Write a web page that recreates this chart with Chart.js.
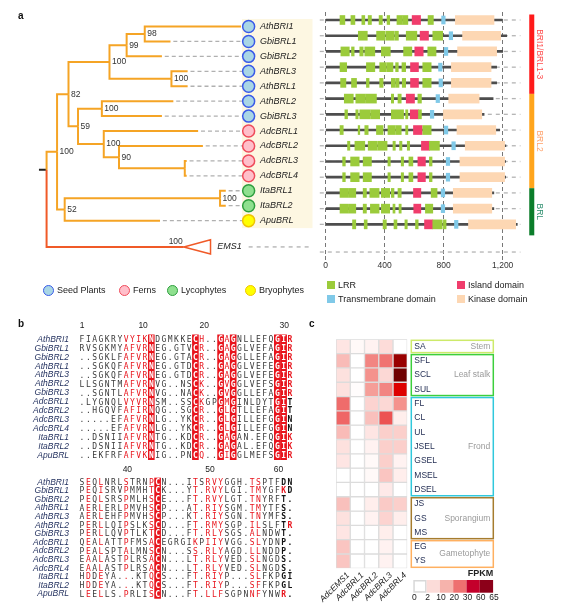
<!DOCTYPE html>
<html>
<head>
<meta charset="utf-8">
<script src="https://cdn.jsdelivr.net/npm/chart.js@4.4.1/dist/chart.umd.min.js"></script>
<style>
  body { margin: 0; background: #fff; font-family: "Liberation Sans", Arial, sans-serif; }
  #page { position: relative; width: 562px; height: 605px; overflow: hidden; }
  canvas { position: absolute; }
  .tag { position: absolute; font-weight: bold; font-size: 10px; color: #111; }
  .leg { position: absolute; display: flex; align-items: center; gap: 3px; height: 12px; font-size: 9px; color: #222; white-space: nowrap; }
  .leg i { display: block; width: 9px; height: 9px; border-radius: 50%; border: 1.5px solid; }
  .leg b { display: block; width: 8px; height: 8px; }
</style>
</head>
<body>
<div id="page">
  <canvas id="treeChart" width="320" height="300" style="left:0;top:0"></canvas>
  <canvas id="domainChart" width="262" height="275" style="left:300px;top:0"></canvas>
  <canvas id="alignTop" width="300" height="142" style="left:0;top:318px"></canvas>
  <canvas id="alignBottom" width="300" height="143" style="left:0;top:462px"></canvas>
  <canvas id="heatChart" width="262" height="275" style="left:300px;top:330px"></canvas>

  <div class="tag" style="left:18px;top:10px">a</div>
  <div class="tag" style="left:18px;top:318px">b</div>
  <div class="tag" style="left:309px;top:318px">c</div>

  <div class="leg" style="left:43px;top:284px"><i style="background:#a9d6e5;border-color:#3a5ae8"></i>Seed Plants</div>
  <div class="leg" style="left:119px;top:284px"><i style="background:#ffbfca;border-color:#ef4a5a"></i>Ferns</div>
  <div class="leg" style="left:167px;top:284px"><i style="background:#8fe08f;border-color:#2e9e3e"></i>Lycophytes</div>
  <div class="leg" style="left:245px;top:284px"><i style="background:#ffff00;border-color:#f0c400"></i>Bryophytes</div>

  <div class="leg" style="left:327px;top:279px"><b style="background:#9bcb3b"></b>LRR</div>
  <div class="leg" style="left:457px;top:279px"><b style="background:#f03d6c"></b>Island domain</div>
  <div class="leg" style="left:327px;top:293px"><b style="background:#80c9e8"></b>Transmembrane domain</div>
  <div class="leg" style="left:457px;top:293px"><b style="background:#fdd7b3"></b>Kinase domain</div>
</div>

<script>
const FONT = '"Liberation Sans", Arial, sans-serif';
Chart.defaults.font.family = FONT;

// ---------- panel a : tree ----------
const leafNames = ['AthBRI1', 'GbiBRL1', 'GbiBRL2', 'AthBRL3', 'AthBRL1', 'AthBRL2', 'GbiBRL3',
  'AdcBRL1', 'AdcBRL2', 'AdcBRL3', 'AdcBRL4', 'ItaBRL1', 'ItaBRL2', 'ApuBRL'];
const leafGroup = [0, 0, 0, 0, 0, 0, 0, 1, 1, 1, 1, 2, 2, 3];
const leafTip = [245, 171, 162, 189, 189, 174, 162, 200, 205, 188, 188, 229, 229, 160];
// internal nodes: depth and children (number = leaf, 'nK' = node K)
const nodeDepth = [144, 125, 172, 107, 99, 186, 117, 101, 74, 64, 223, 60, 52];
const nodeKids = [[0, 1], ['n0', 2], [3, 4], ['n1', 'n2'], [5, 6], [9, 10], [8, 'n5'], [7, 'n6'],
  ['n4', 'n7'], ['n3', 'n8'], [11, 12], ['n10', 13], ['n9', 'n11']];
const nodeSupport = ['98', '99', '100', '100', '100', '', '90', '100', '59', '82', '100', '52', '100'];
const outName = 'EMS1';
const outSupport = '100';
const outRow = 14.76;
const outApex = 185, outBase = 213;
const rootDepth = 41, rootStub = 33, rootRow = 9.6;
const groupFill = ['#a9d6e5', '#ffbfca', '#8fe08f', '#ffff00'];
const groupLine = ['#3a5ae8', '#ef4a5a', '#2e9e3e', '#f0c400'];

// ---------- panel a : domains ----------
const protLen = [1196, 1227, 1200, 1159, 1159, 1135, 1074, 1180, 1222, 1220, 1220, 1140, 1140, 1299];
const kinaseSpan = [[879, 1141], [928, 1186], [894, 1159], [852, 1121], [852, 1121], [834, 1040], [798, 1058],
  [890, 1153], [946, 1213], [910, 1213], [910, 1213], [865, 1126], [865, 1126], [968, 1288]];
const tmSite = [798, 849, 816, 777, 780, 760, 721, 816, 867, 829, 829, 795, 795, 885];
const islandSpan = [[586, 643], [640, 697], [604, 661], [575, 629], [575, 629], [546, 602], [573, 629],
  [595, 654], [649, 703], [625, 676], [625, 676], [595, 645], [597, 645], [670, 726]];
const lrrSpans = [
  [[97, 130], [171, 198], [245, 265], [288, 310], [362, 384], [416, 434], [483, 520], [522, 557], [694, 730]],
  [[221, 282], [345, 402], [408, 465], [470, 493], [546, 618], [726, 793]],
  [[103, 160], [175, 193], [231, 254], [265, 333], [377, 438], [528, 584], [692, 748]],
  [[97, 142], [276, 333], [366, 410], [414, 456], [474, 492], [517, 542], [658, 715]],
  [[101, 137], [175, 209], [276, 294], [366, 389], [445, 470], [474, 497], [519, 542], [658, 715]],
  [[126, 187], [204, 270], [274, 344], [445, 461], [490, 512], [625, 649]],
  [[130, 148], [204, 220], [231, 300], [304, 366], [445, 528], [542, 557], [629, 649]],
  [[97, 119], [220, 231], [265, 288], [344, 389], [422, 470], [474, 512], [542, 557], [658, 715]],
  [[148, 164], [198, 265], [288, 350], [354, 416], [456, 472], [501, 517], [553, 569], [703, 771]],
  [[115, 133], [169, 227], [254, 310], [422, 438], [512, 528], [564, 591], [703, 721]],
  [[115, 133], [169, 227], [254, 310], [422, 438], [512, 528], [564, 591], [703, 721]],
  [[97, 150], [154, 204], [254, 276], [299, 362], [377, 434], [445, 463], [490, 512], [715, 755]],
  [[97, 150], [154, 204], [254, 276], [303, 362], [377, 434], [456, 470], [497, 512], [676, 726]],
  [[182, 204], [261, 281], [389, 411], [463, 483], [537, 553], [609, 627], [726, 790], [798, 816]]
];
const axisTicks = [0, 400, 800, 1200];
const cladeNames = ['BRI1/BRL1-3', 'BRL2', 'BRL'];
const cladeRows = [[0, 4], [5, 10], [11, 13]];
const cladeColors = ['#ff1a1a', '#ffa51c', '#0b7d2a'];
const cladeTextColors = ['#ff4d4d', '#ffa26b', '#2f8f6f'];

// ---------- panel b : alignment ----------
const alignNames = ['AthBRI1', 'GbiBRL1', 'GbiBRL2', 'AthBRL1', 'AthBRL3', 'AthBRL2', 'GbiBRL3',
  'AdcBRL1', 'AdcBRL2', 'AdcBRL3', 'AdcBRL4', 'ItaBRL1', 'ItaBRL2', 'ApuBRL'];
const alignTop = [
  'FIAGKRYVYIKNDGMKKECH..GAGNLLEFQGIR',
  'RVSGKMYAFVRNEG.GTVCR..GAGGLVEFAGIR',
  '..SGKLFAFVRNEG.GTACR..GAGGLLEFAGIR',
  '..SGKQFAFVRNEG.GTDCR..GAGGLVEFEGIR',
  '..SGKQFAFVRNEG.GTDCR..GAGGLVEFEGIR',
  'LLSGNTMAFVRNVG..NSCK..GVGGLVEFSGIR',
  '..SGNTLAFVRNVG..NACK..GVGGLLEFAGIR',
  '.LYGNQLVYVRNSM..SSCKGPGMGINLDYTGIT',
  '..HGQVFAFIRNQG..SGCR..GLGTLLEFAGIT',
  '.....EFAFVRNLG..YKCR..GLGILLEFGGIN',
  '.....EFAFVRNLG..YKCR..GLGILLEFGGIN',
  '..DSNIIAFVRNTG..KDCR..GAGAN.EFQGIK',
  '..DSNIIAFVRNTG..KDCR..GAGAL.EFQGIK',
  '..EKFRFAFVKNIG..PNCQ..GIGGLMEFSGIR'
];
const alignBottom = [
  'SEQLNRLSTRNPCN...ITSRVYGGH.TSPTFDN',
  'PEQISRVPMMHTCK...YT.RVYLGI.TMYGFKD',
  'PEQLSRSPMLHSCE...FT.RVYLGT.TNYRFT.',
  'AERLERLPMVHSCP...AT.RIYSGM.TMYTFS.',
  'AERLEHFPMVHSCP...KT.RIYSGN.TNYMFS.',
  'PERLLQIPSLKSCD...FT.RMYSGP.ILSLFTR',
  'PERLLQVPTLKTCD...FT.RLYSGS.ALNDWT.',
  'QEALATTPFMSACEGRGIKPIIYVGG.SLYDNP.',
  'PEALSPTALMNSCN...SS.RLYAGD.LLNDDP.',
  'EAALASTPLRSACN...LT.RLYVED.SLNGDS.',
  'EAALASTPLRSACN...LT.RLYVED.SLNGDS.',
  'HDDEYA...KTQCS...FT.RIYP...SLFKPGI',
  'HDDEYA...KTQCS...FT.RIYP...SFFKPGL',
  'LEELLS.PRLISCN...FT.LLFSGPNNFYNWR.'
];
// column classes: n normal, r similar (red), b identical (red box), k bold
const classTop = 'nnnnnnnrrrrbnnnnnnbrnnbrbnnnnnnbbk';
const classBottom = 'nrnrnnnrnnnrbnnnnnrnrrrnnnnrrnnnkk';
const numTopCols = [0, 9.7, 19.4, 32.1];
const numTopText = ['1', '10', '20', '30'];
const numBottomCols = [7.2, 20.3, 31.2];
const numBottomText = ['40', '50', '60'];

// ---------- panel c : heatmap ----------
const geneNames = ['AdcEMS1', 'AdcBRL1', 'AdcBRL2', 'AdcBRL3', 'AdcBRL4'];
const tissueNames = ['SA', 'SFL', 'SCL', 'SUL', 'FL', 'CL', 'UL', 'JSEL', 'GSEL', 'MSEL', 'DSEL', 'JS', 'GS', 'MS', 'EG', 'YS'];
const fpkmEMS1 = [5, 14, 6, 6, 28, 29, 14, 6, 5, 0, 0, 13, 6, 5, 12, 12];
const fpkmBRL1 = [1, 0, 0, 0.5, 0, 0, 0, 0, 0, 0, 0, 0, 0, 0, 0, 0];
const fpkmBRL2 = [2, 24, 22, 20, 9, 13, 5, 2, 1, 1, 0, 3, 2, 0, 0, 0];
const fpkmBRL3 = [7, 27, 8, 24, 8, 32, 10, 10, 10, 12, 4, 11, 9, 3, 2, 2];
const fpkmBRL4 = [0, 60, 65, 45, 22, 3, 10, 10, 2, 3, 0, 10, 3, 0, 0, 0];
const tissueGroupNames = ['Stem', 'Leaf stalk', 'Frond', 'Sporangium', 'Gametophyte'];
const tissueGroupRows = [[0, 0], [1, 3], [4, 10], [11, 13], [14, 15]];
const tissueGroupColors = ['#cdea6a', '#3ccf3c', '#30c8dc', '#a67c2e', '#ffb060'];
const heatStops = [0, 2, 10, 20, 30, 45, 60, 65];
const heatHex = ['#ffffff', '#fff2f1', '#fbcfcb', '#f59e98', '#ee6060', '#dd0000', '#990000', '#700000'];
const legendStops = ['0', '2', '10', '20', '30', '60', '65'];
const legendColors = ['#ffffff', '#fcdcd9', '#f6b3ac', '#ee7070', '#c4002b', '#8c0019'];

// ================= tree =================
function kidRow(k) { return typeof k === 'number' ? k : nodeRow(+k.slice(1)); }
function kidDepth(k) { return typeof k === 'number' ? leafTip[k] : nodeDepth[+k.slice(1)]; }
function nodeRow(i) {
  const ks = nodeKids[i];
  return (kidRow(ks[0]) + kidRow(ks[ks.length - 1])) / 2;
}

const orange = '#f5a425';
const emsRed = '#f05a28';
const circleX = 253, labelX = 265, dashEnd = 246;
const treeSets = [];

function branch(pts, color, width, order) {
  treeSets.push({ data: pts, showLine: true, borderColor: color, borderWidth: width || 2,
    pointRadius: 0, borderCapStyle: 'butt', borderJoinStyle: 'miter', order: order || 3 });
}
nodeKids.forEach((ks, i) => {
  const r = nodeRow(i);
  ks.forEach(k => branch([{ x: nodeDepth[i], y: r }, { x: nodeDepth[i], y: kidRow(k) }, { x: kidDepth(k), y: kidRow(k) }], orange));
});
const topNode = nodeKids.length - 1;
branch([{ x: rootDepth, y: rootRow }, { x: rootDepth, y: nodeRow(topNode) }, { x: nodeDepth[topNode], y: nodeRow(topNode) }], orange);
branch([{ x: rootDepth, y: rootRow }, { x: rootDepth, y: outRow }, { x: outApex, y: outRow }], emsRed);
branch([{ x: outApex, y: outRow }, { x: outBase, y: outRow - 0.48 }, { x: outBase, y: outRow + 0.48 }, { x: outApex, y: outRow }], emsRed, 1.5);
branch([{ x: rootStub, y: rootRow }, { x: rootDepth, y: rootRow }], '#222', 2);

// dashed connectors
leafTip.forEach((t, i) => {
  if (t < dashEnd - 4) {
    treeSets.push({ data: [{ x: t + 3, y: i }, { x: dashEnd, y: i }], showLine: true, borderColor: '#b0b0b0',
      borderWidth: 1.3, borderDash: [4, 3], pointRadius: 0, order: 5 });
  }
});
treeSets.push({ data: [{ x: circleX, y: outRow }, { x: 320, y: outRow }], showLine: true, borderColor: '#b0b0b0',
  borderWidth: 1.3, borderDash: [4, 4], pointRadius: 0, order: 5 });

treeSets.push({
  data: leafNames.map((_, i) => ({ x: circleX, y: i })),
  pointRadius: 6, pointBorderWidth: 1.5,
  pointBackgroundColor: leafGroup.map(g => groupFill[g]),
  pointBorderColor: leafGroup.map(g => groupLine[g]),
  order: 0
});

const rowPx = 15.72, firstRowPx = 20;
const treeYMin = -firstRowPx / rowPx;

const treeTextPlugin = {
  id: 'treeText',
  beforeDatasetsDraw(chart) {
    const { ctx, scales: { x, y } } = chart;
    ctx.save();
    ctx.fillStyle = '#fdf7e2';
    const x0 = x.getPixelForValue(dashEnd), x1 = x.getPixelForValue(320);
    const y0 = y.getPixelForValue(-0.5), y1 = y.getPixelForValue(leafNames.length - 0.5);
    ctx.fillRect(x0, y0, x1 - x0, y1 - y0);
    ctx.restore();
  },
  afterDatasetsDraw(chart) {
    const { ctx, scales: { x, y } } = chart;
    ctx.save();
    ctx.font = '8.5px ' + FONT;
    ctx.fillStyle = '#333';
    ctx.textBaseline = 'middle';
    ctx.textAlign = 'left';
    nodeSupport.forEach((s, i) => {
      if (s) ctx.fillText(s, x.getPixelForValue(nodeDepth[i]) + 2.5, y.getPixelForValue(nodeRow(i)));
    });
    ctx.textAlign = 'right';
    ctx.fillText(outSupport, x.getPixelForValue(outApex) - 1, y.getPixelForValue(outRow) - 5);
    ctx.font = 'italic 9px ' + FONT;
    ctx.fillStyle = '#222';
    ctx.textAlign = 'left';
    leafNames.forEach((n, i) => ctx.fillText(n, x.getPixelForValue(labelX), y.getPixelForValue(i)));
    ctx.fillText(outName, x.getPixelForValue(outBase + 7), y.getPixelForValue(outRow));
    ctx.restore();
  }
};

new Chart(document.getElementById('treeChart'), {
  type: 'scatter',
  data: { datasets: treeSets },
  options: {
    responsive: false, animation: false, events: [],
    layout: { padding: 0 },
    plugins: { legend: { display: false }, tooltip: { enabled: false } },
    scales: {
      x: { type: 'linear', min: 0, max: 320, display: false },
      y: { type: 'linear', min: treeYMin, max: treeYMin + 300 / rowPx, reverse: true, display: false }
    }
  },
  plugins: [treeTextPlugin]
});

// ================= domains =================
const pxPerUnit = 0.1475, zeroPx = 25.7;
const domXMin = -zeroPx / pxPerUnit, domXMax = (262 - zeroPx) / pxPerUnit;
const domTop = 12, domBottom = 256;
const domYMin = -(firstRowPx - domTop) / rowPx;
const domYMax = domYMin + (domBottom - domTop) / rowPx;
const tmWidth = 24;
const guideFrom = -40, guideTo = 1320;

const domainSets = [];
protLen.map((_, i) => i).concat([outRow]).forEach(r => domainSets.push({
  type: 'line', data: [{ x: guideFrom, y: r }, { x: guideTo, y: r }], borderColor: '#b4b4b4',
  borderWidth: 1.3, borderDash: [4, 4], pointRadius: 0, fill: false, order: 10
}));
domainSets.push({ data: protLen.map((l, i) => ({ y: i, x: [0, l] })), backgroundColor: '#4d4d4d',
  barThickness: 2, grouped: false, order: 9 });
domainSets.push({ data: kinaseSpan.map((s, i) => ({ y: i, x: s })), backgroundColor: '#fdd7b3',
  barThickness: 9, grouped: false, order: 4 });
domainSets.push({ data: tmSite.map((c, i) => ({ y: i, x: [c - tmWidth / 2, c + tmWidth / 2] })), backgroundColor: '#80c9e8',
  barThickness: 8, grouped: false, order: 3 });
domainSets.push({ data: islandSpan.map((s, i) => ({ y: i, x: s })), backgroundColor: '#f03d6c',
  barThickness: 9, grouped: false, order: 2 });
domainSets.push({ data: lrrSpans.flatMap((spans, i) => spans.map(s => ({ y: i, x: s }))), backgroundColor: '#9bcb3b',
  barThickness: 9, grouped: false, order: 1 });

const cladePlugin = {
  id: 'clades',
  afterDatasetsDraw(chart) {
    const { ctx, scales: { x, y } } = chart;
    ctx.save();
    let top = cladeRows[0][0] - 0.35;
    cladeRows.forEach((cr, i) => {
      const bottom = cr[1] + 0.7;
      const y0 = y.getPixelForValue(top), y1 = y.getPixelForValue(bottom);
      const x0 = x.getPixelForValue(1380), x1 = x.getPixelForValue(1414);
      ctx.fillStyle = cladeColors[i];
      ctx.fillRect(x0, y0, x1 - x0, y1 - y0);
      ctx.save();
      ctx.translate(x.getPixelForValue(1450), (y0 + y1) / 2);
      ctx.rotate(Math.PI / 2);
      ctx.font = '8.5px ' + FONT;
      ctx.fillStyle = cladeTextColors[i];
      ctx.textAlign = 'center';
      ctx.textBaseline = 'middle';
      ctx.fillText(cladeNames[i], 0, 0);
      ctx.restore();
      top = bottom;
    });
    ctx.restore();
  }
};

new Chart(document.getElementById('domainChart'), {
  type: 'bar',
  data: { datasets: domainSets },
  options: {
    responsive: false, animation: false, events: [],
    indexAxis: 'y',
    layout: { padding: { top: domTop, left: 0, right: 0, bottom: 0 } },
    plugins: { legend: { display: false }, tooltip: { enabled: false } },
    scales: {
      x: {
        type: 'linear', min: domXMin, max: domXMax,
        afterBuildTicks: s => { s.ticks = axisTicks.map(v => ({ value: v })); },
        afterFit: s => { s.height = 275 - domBottom; },
        grid: { color: '#777', lineWidth: 1, drawTicks: true, tickLength: 4, tickColor: '#777' },
        border: { display: false, dash: [4, 3] },
        ticks: { font: { size: 8.5 }, color: '#333', padding: 1, callback: v => v.toLocaleString('en-US') }
      },
      y: { type: 'linear', min: domYMin, max: domYMax, reverse: true, display: false, offset: false }
    }
  },
  plugins: [cladePlugin]
});

// ================= alignment =================
const colPx = 6.3, firstColPx = 82;

function alignChart(id, seqs, cls, numCols, numText, firstPx, stepPx, heightPx, numRow) {
  const boxCols = [];
  for (let c = 0; c < cls.length; c++) if (cls[c] === 'b') boxCols.push(c);
  const yMin = -firstPx / stepPx;
  const textPlugin = {
    id: 'alignText',
    afterDatasetsDraw(chart) {
      const { ctx, scales: { x, y } } = chart;
      ctx.save();
      ctx.textBaseline = 'middle';
      ctx.textAlign = 'center';
      ctx.font = '8.5px ' + FONT;
      ctx.fillStyle = '#222';
      numCols.forEach((c, i) => ctx.fillText(numText[i], x.getPixelForValue(c), y.getPixelForValue(numRow)));
      ctx.textAlign = 'right';
      ctx.font = 'italic 8.5px ' + FONT;
      ctx.fillStyle = '#1f2d5c';
      alignNames.forEach((n, r) => ctx.fillText(n, x.getPixelForValue(-2.06), y.getPixelForValue(r)));
      ctx.textAlign = 'center';
      seqs.forEach((s, r) => {
        for (let c = 0; c < s.length; c++) {
          const ch = s[c], k = cls[c];
          let color = '#3a3a3a', weight = '';
          if (k === 'r') color = '#e8141c';
          else if (k === 'b') { color = '#ffffff'; weight = 'bold '; }
          else if (k === 'k') { weight = 'bold '; color = 'RK'.includes(ch) ? '#e8141c' : '#111'; }
          ctx.font = weight + '8px "DejaVu Sans Mono", monospace';
          ctx.fillStyle = color;
          ctx.fillText(ch, x.getPixelForValue(c), y.getPixelForValue(r) + 0.5);
        }
      });
      ctx.restore();
    }
  };
  new Chart(document.getElementById(id), {
    type: 'bar',
    data: { datasets: [{
      data: boxCols.map(c => ({ x: c, y: [-0.5, seqs.length - 0.5] })),
      backgroundColor: '#e8141c', barThickness: colPx - 0.3, grouped: false
    }] },
    options: {
      responsive: false, animation: false, events: [],
      layout: { padding: 0 },
      plugins: { legend: { display: false }, tooltip: { enabled: false } },
      scales: {
        x: { type: 'linear', min: -firstColPx / colPx, max: (300 - firstColPx) / colPx, display: false, offset: false },
        y: { type: 'linear', min: yMin, max: yMin + heightPx / stepPx, reverse: true, display: false }
      }
    },
    plugins: [textPlugin]
  });
}

alignChart('alignTop', alignTop, classTop, numTopCols, numTopText, 21.3, 8.95, 142, -1.49);
alignChart('alignBottom', alignBottom, classBottom, numBottomCols, numBottomText, 20.3, 8.6, 143, -1.43);

// ================= heatmap =================
function hexRgb(h) { return [1, 3, 5].map(i => parseInt(h.slice(i, i + 2), 16)); }
function heatColor(v) {
  for (let i = 1; i < heatStops.length; i++) {
    if (v <= heatStops[i]) {
      const t = (v - heatStops[i - 1]) / (heatStops[i] - heatStops[i - 1]);
      const a = hexRgb(heatHex[i - 1]), b = hexRgb(heatHex[i]);
      return 'rgb(' + a.map((c, j) => Math.round(c + (b[j] - c) * t)).join(',') + ')';
    }
  }
  return heatHex[heatHex.length - 1];
}

const geneFpkm = [fpkmEMS1, fpkmBRL1, fpkmBRL2, fpkmBRL3, fpkmBRL4];
const heatSets = tissueNames.map((t, r) => ({
  label: t,
  data: geneFpkm.map(() => [r, r + 1]),
  backgroundColor: geneFpkm.map(g => heatColor(g[r])),
  borderColor: '#dcdcdc', borderWidth: 1, borderSkipped: false,
  grouped: false, barPercentage: 1, categoryPercentage: 1
}));

const heatSidePlugin = {
  id: 'heatSide',
  afterDatasetsDraw(chart) {
    const { ctx, chartArea: ca, scales: { y } } = chart;
    ctx.save();
    const bx0 = ca.right + 4, bx1 = ca.right + 86;
    tissueGroupRows.forEach((g, i) => {
      const y0 = y.getPixelForValue(g[0]) + 1, y1 = y.getPixelForValue(g[1] + 1) - 1;
      ctx.strokeStyle = tissueGroupColors[i];
      ctx.lineWidth = 1.5;
      ctx.strokeRect(bx0, y0, bx1 - bx0, y1 - y0);
      ctx.font = '8.5px ' + FONT;
      ctx.fillStyle = '#9a9a9a';
      ctx.textAlign = 'right';
      ctx.textBaseline = 'middle';
      ctx.fillText(tissueGroupNames[i], bx1 - 3, y.getPixelForValue((g[0] + g[1] + 1) / 2));
    });
    ctx.font = '8.5px ' + FONT;
    ctx.fillStyle = '#1f2a50';
    ctx.textAlign = 'left';
    tissueNames.forEach((t, r) => ctx.fillText(t, ca.right + 7, y.getPixelForValue(r + 0.5)));

    // colour key
    ctx.font = 'bold 9px ' + FONT;
    ctx.fillStyle = '#222';
    ctx.textAlign = 'right';
    ctx.fillText('FPKM', bx1, 244);
    const kw = 13.3, kx = ca.right + 6;
    legendColors.forEach((c, i) => {
      ctx.fillStyle = c;
      ctx.fillRect(kx + i * kw, 250, kw, 12.7);
      if (i === 0) {
        ctx.strokeStyle = '#d8d8d8';
        ctx.lineWidth = 1.5;
        ctx.strokeRect(kx + 0.75, 250.75, kw - 1.5, 11.2);
      }
    });
    ctx.font = '8.5px ' + FONT;
    ctx.fillStyle = '#222';
    ctx.textAlign = 'center';
    legendStops.forEach((s, i) => ctx.fillText(s, kx + i * kw + 1, 268));
    ctx.restore();
  }
};

new Chart(document.getElementById('heatChart'), {
  type: 'bar',
  data: { labels: geneNames, datasets: heatSets },
  options: {
    responsive: false, animation: false, events: [],
    layout: { padding: { left: 36, right: 154.7, top: 9.3, bottom: 0 } },
    plugins: { legend: { display: false }, tooltip: { enabled: false } },
    scales: {
      x: {
        afterFit: s => { s.height = 36.7; },
        grid: { display: false }, border: { display: false },
        ticks: { autoSkip: false, minRotation: 45, maxRotation: 45, padding: -6, labelOffset: 5,
          color: '#222', font: { size: 8.5, style: 'italic' } }
      },
      y: { type: 'linear', min: 0, max: 16, reverse: true, display: false }
    }
  },
  plugins: [heatSidePlugin]
});
</script>
</body>
</html>
